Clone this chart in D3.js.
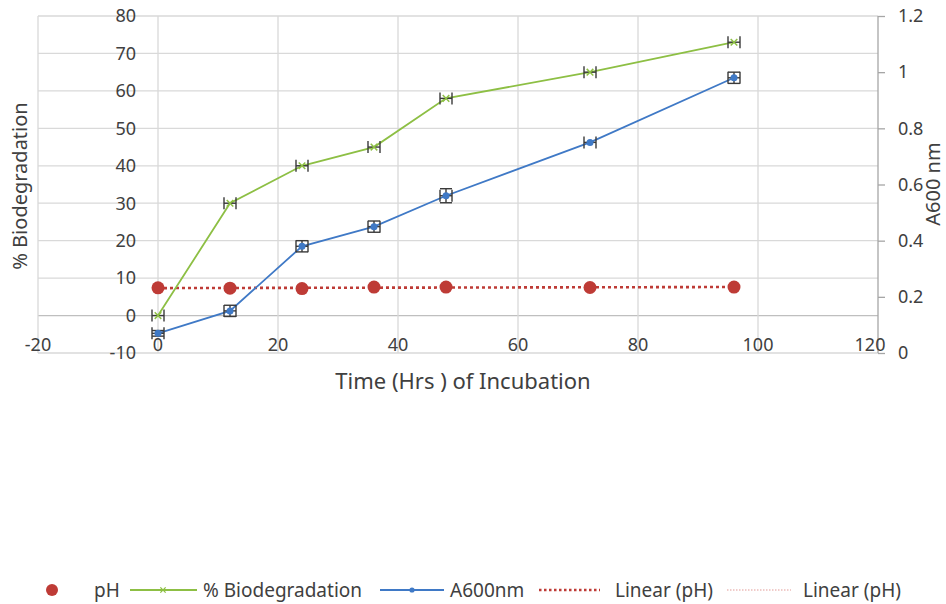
<!DOCTYPE html>
<html>
<head>
<meta charset="utf-8">
<script src="https://cdn.jsdelivr.net/npm/d3@7"></script>
<style>
    body { margin: 0; background: #fff; }
    svg text { font-family: "Noto Sans", "Open Sans", sans-serif; fill: #404040; }
</style>
</head>
<body>
<div id="chart"></div>
<script>
// Data
const hours = [0, 12, 24, 36, 48, 72, 96];
const biodegradation = [0, 30, 40, 45, 58, 65, 73];
const a600 = [0.07, 0.15, 0.38, 0.45, 0.56, 0.75, 0.98];
const a600Err = [0.01, 0.02, 0.02, 0.02, 0.025, 0, 0.02];
const ph = [7.4, 7.3, 7.2, 7.6, 7.6, 7.5, 7.6];
const hourErr = 1;

const xTicks = [-20, 0, 20, 40, 60, 80, 100, 120];
const leftTicks = [-10, 0, 10, 20, 30, 40, 50, 60, 70, 80];
const rightTicks = [0, 0.2, 0.4, 0.6, 0.8, 1, 1.2];
const legendItems = ['pH', '% Biodegradation', 'A600nm', 'Linear (pH)', 'Linear (pH)'];

const colors = { ph: '#be3b36', bio: '#8dbf44', a600: '#3f79c6', grid: '#d9d9d9', err: '#3a3a3a' };

const width = 946, height = 604;
const svg = d3.select('#chart').append('svg')
    .attr('width', width)
    .attr('height', height);

// Scales
const x = d3.scaleLinear().domain([-20, 120]).range([38, 878]);
const yL = d3.scaleLinear().domain([-10, 80]).range([353, 16]);
const yR = d3.scaleLinear().domain([0, 1.2]).range([353, 16]);

// Gridlines
svg.append('g')
    .selectAll('line')
    .data(leftTicks)
    .join('line')
    .attr('x1', x(-20)).attr('x2', x(120))
    .attr('y1', d => yL(d)).attr('y2', d => yL(d))
    .style('stroke', d => d === 0 ? '#bfbfbf' : colors.grid)
    .style('stroke-width', 1.3);

svg.append('g')
    .selectAll('line')
    .data(xTicks)
    .join('line')
    .attr('x1', d => x(d)).attr('x2', d => x(d))
    .attr('y1', yL(80)).attr('y2', yL(-10))
    .style('stroke', d => d === 120 ? '#a6a6a6' : colors.grid)
    .style('stroke-width', 1.3);

// Left axis labels (axis crosses at x = 0)
svg.append('g')
    .selectAll('text')
    .data(leftTicks)
    .join('text')
    .attr('x', x(0) - 22)
    .attr('y', d => yL(d))
    .attr('dy', '0.35em')
    .attr('text-anchor', 'end')
    .style('font-size', '18px')
    .text(d => d);

// Right axis with short ticks
const rightAxis = svg.append('g')
    .attr('transform', `translate(${x(120)},0)`)
    .call(d3.axisRight(yR).tickValues(rightTicks).tickSize(7).tickPadding(13)
        .tickFormat(d => d3.format('')(+d.toFixed(1))));
rightAxis.select('.domain').remove();
rightAxis.selectAll('line').style('stroke', '#a6a6a6').style('stroke-width', 1.3);
rightAxis.selectAll('text').style('font-size', '18px').style('fill', '#404040')
    .attr('font-family', null);

// X axis labels (placed low, above the bottom gridline)
svg.append('g')
    .selectAll('text')
    .data(xTicks)
    .join('text')
    .attr('x', d => x(d) + (d === 120 ? -8 : 0))
    .attr('y', 345)
    .attr('dy', '0.35em')
    .attr('text-anchor', 'middle')
    .style('font-size', '18px')
    .text(d => d);

// Axis titles
svg.append('text')
    .attr('transform', `translate(27,186) rotate(-90)`)
    .attr('text-anchor', 'middle')
    .style('font-size', '20px')
    .text('% Biodegradation');

svg.append('text')
    .attr('transform', `translate(940,184) rotate(-90)`)
    .attr('text-anchor', 'middle')
    .style('font-size', '20px')
    .text('A600 nm');

svg.append('text')
    .attr('x', 463)
    .attr('y', 389)
    .attr('text-anchor', 'middle')
    .style('font-size', '22px')
    .text('Time (Hrs ) of Incubation');

// Linear trendline for pH
const reg = (() => {
    const mx = d3.mean(hours), my = d3.mean(ph);
    const sxy = d3.sum(hours, (h, i) => (h - mx) * (ph[i] - my));
    const sxx = d3.sum(hours, h => (h - mx) ** 2);
    const slope = sxy / sxx;
    return { slope, intercept: my - slope * mx };
})();
const trendEnds = [d3.min(hours), d3.max(hours)];

svg.append('line')
    .attr('x1', x(trendEnds[0])).attr('x2', x(trendEnds[1]))
    .attr('y1', yL(reg.intercept + reg.slope * trendEnds[0]))
    .attr('y2', yL(reg.intercept + reg.slope * trendEnds[1]))
    .style('stroke', colors.ph)
    .style('stroke-width', 2.6)
    .style('stroke-dasharray', '3,3');

// Series lines
const bioLine = d3.line().x(d => x(d[0])).y(d => yL(d[1]));
const a600Line = d3.line().x(d => x(d[0])).y(d => yR(d[1]));

svg.append('path')
    .datum(hours.map((h, i) => [h, biodegradation[i]]))
    .attr('d', bioLine)
    .style('fill', 'none')
    .style('stroke', colors.bio)
    .style('stroke-width', 1.8);

svg.append('path')
    .datum(hours.map((h, i) => [h, a600[i]]))
    .attr('d', a600Line)
    .style('fill', 'none')
    .style('stroke', colors.a600)
    .style('stroke-width', 1.8);

// Error bars
function errorBars(vals, yScale, yErr) {
    const g = svg.append('g').style('stroke', colors.err).style('stroke-width', 1.4);
    const cap = 6;
    hours.forEach((h, i) => {
        const cy = yScale(vals[i]);
        const xl = x(h - hourErr), xr = x(h + hourErr);
        g.append('line').attr('x1', xl).attr('x2', xr).attr('y1', cy).attr('y2', cy);
        g.append('line').attr('x1', xl).attr('x2', xl).attr('y1', cy - cap).attr('y2', cy + cap);
        g.append('line').attr('x1', xr).attr('x2', xr).attr('y1', cy - cap).attr('y2', cy + cap);
        if (yErr && yErr[i] > 0) {
            const yt = yScale(vals[i] + yErr[i]), yb = yScale(vals[i] - yErr[i]);
            const cx = x(h);
            g.append('line').attr('x1', cx).attr('x2', cx).attr('y1', yt).attr('y2', yb);
            g.append('line').attr('x1', cx - cap).attr('x2', cx + cap).attr('y1', yt).attr('y2', yt);
            g.append('line').attr('x1', cx - cap).attr('x2', cx + cap).attr('y1', yb).attr('y2', yb);
        }
    });
}
errorBars(biodegradation, yL, null);
errorBars(a600, yR, a600Err);

// Markers
svg.append('g')
    .selectAll('path')
    .data(hours)
    .join('path')
    .attr('d', d3.symbol(d3.symbolX, 30))
    .attr('transform', (d, i) => `translate(${x(d)},${yL(biodegradation[i])})`)
    .style('stroke', colors.bio)
    .style('stroke-width', 1.5);

svg.append('g')
    .selectAll('circle')
    .data(hours)
    .join('circle')
    .attr('cx', d => x(d))
    .attr('cy', (d, i) => yR(a600[i]))
    .attr('r', 3.5)
    .style('fill', colors.a600);

svg.append('g')
    .selectAll('circle')
    .data(hours)
    .join('circle')
    .attr('cx', d => x(d))
    .attr('cy', (d, i) => yL(ph[i]))
    .attr('r', 6.5)
    .style('fill', colors.ph);

// Legend
const ly = 590;
const legend = svg.append('g');
const lfs = '19px';

legend.append('circle').attr('cx', 52).attr('cy', ly).attr('r', 6).style('fill', colors.ph);
legend.append('text').attr('x', 94).attr('y', ly).attr('dy', '0.35em')
    .style('font-size', lfs).text(legendItems[0]);

legend.append('line').attr('x1', 130).attr('x2', 197).attr('y1', ly).attr('y2', ly)
    .style('stroke', colors.bio).style('stroke-width', 1.8);
legend.append('path').attr('d', d3.symbol(d3.symbolX, 20))
    .attr('transform', `translate(163,${ly})`)
    .style('stroke', colors.bio).style('stroke-width', 1.3);
legend.append('text').attr('x', 203).attr('y', ly).attr('dy', '0.35em')
    .style('font-size', lfs).text(legendItems[1]);

legend.append('line').attr('x1', 380).attr('x2', 444).attr('y1', ly).attr('y2', ly)
    .style('stroke', colors.a600).style('stroke-width', 1.8);
legend.append('circle').attr('cx', 412).attr('cy', ly).attr('r', 2.6).style('fill', colors.a600);
legend.append('text').attr('x', 450).attr('y', ly).attr('dy', '0.35em')
    .style('font-size', lfs).text(legendItems[2]);

legend.append('line').attr('x1', 539).attr('x2', 600).attr('y1', ly).attr('y2', ly)
    .style('stroke', colors.ph).style('stroke-width', 2.4).style('stroke-dasharray', '2.5,2.5');
legend.append('text').attr('x', 615).attr('y', ly).attr('dy', '0.35em')
    .style('font-size', lfs).text(legendItems[3]);

legend.append('line').attr('x1', 727).attr('x2', 791).attr('y1', ly).attr('y2', ly)
    .style('stroke', '#e29a96').style('stroke-width', 1.2).style('stroke-dasharray', '1.5,1.5');
legend.append('text').attr('x', 803).attr('y', ly).attr('dy', '0.35em')
    .style('font-size', lfs).text(legendItems[4]);
</script>
</body>
</html>
